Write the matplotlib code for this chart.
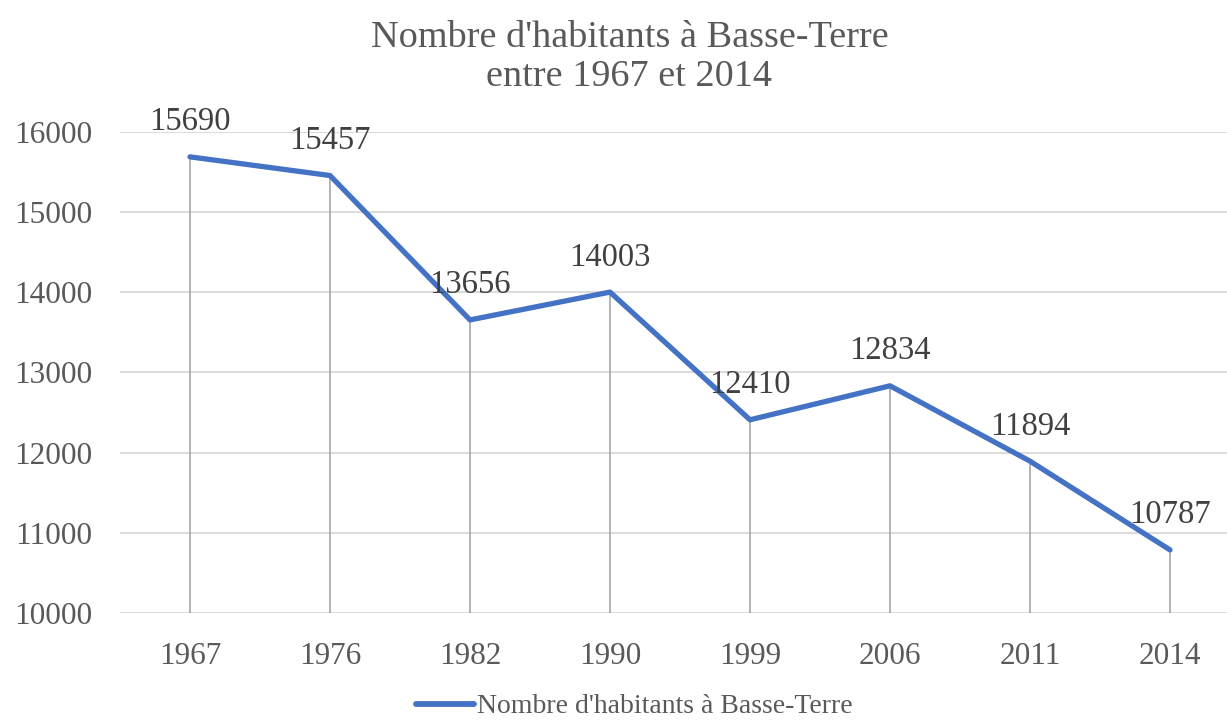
import matplotlib.pyplot as plt
import numpy as np

years = ['1967', '1976', '1982', '1990', '1999', '2006', '2011', '2014']
habitants = [15690, 15457, 13656, 14003, 12410, 12834, 11894, 10787]
series_name = "Nombre d'habitants à Basse-Terre"
title = "Nombre d'habitants à Basse-Terre\nentre 1967 et 2014"

plt.rcParams['font.family'] = ['Liberation Serif', 'DejaVu Serif']

blue = '#4472c4'
grey_text = '#595959'

fig = plt.figure(figsize=(12.27, 7.2), dpi=100)
ax = fig.add_axes([120 / 1227, 107 / 720, 1107 / 1227, 481 / 720])

x = np.arange(len(years))

# drop lines from each point down to the axis
ax.vlines(x, 10000, habitants, color='#a6a6a6', linewidth=1.2, zorder=2)

ax.plot(x, habitants, color=blue, linewidth=3.8, solid_capstyle='round',
        solid_joinstyle='round', label=series_name, zorder=3)

for xi, v in zip(x, habitants):
    ax.annotate(str(v), (xi, v), xytext=(0, 25), textcoords='offset points',
                ha='center', va='center', fontsize=23.5, color='#404040',
                annotation_clip=False, zorder=4)

ax.set_ylim(10000, 16000)
ax.set_xlim(-0.5, (1227 - 120) / 140 - 0.5)
ax.set_yticks(range(10000, 16001, 1000))
ax.set_xticks(x)
ax.set_xticklabels(years)
ax.yaxis.grid(True, color='#d9d9d9', linewidth=1.3)
ax.set_axisbelow(True)
ax.tick_params(axis='both', length=0, labelsize=22.5, labelcolor=grey_text)
ax.tick_params(axis='x', pad=21)
ax.tick_params(axis='y', pad=20)
for s in ax.spines.values():
    s.set_visible(False)

fig.text(0.513, 0.972, title, ha='center', va='top', fontsize=27.5,
         color=grey_text, linespacing=1.2)

leg = fig.legend(loc='lower center', bbox_to_anchor=(0.517, -0.034), frameon=False,
                 fontsize=20, handlelength=2.1, handletextpad=0.1)
for t in leg.get_texts():
    t.set_color(grey_text)
for h in leg.legend_handles:
    h.set_linewidth(4.2)

fig.savefig('out.png', dpi=100)
